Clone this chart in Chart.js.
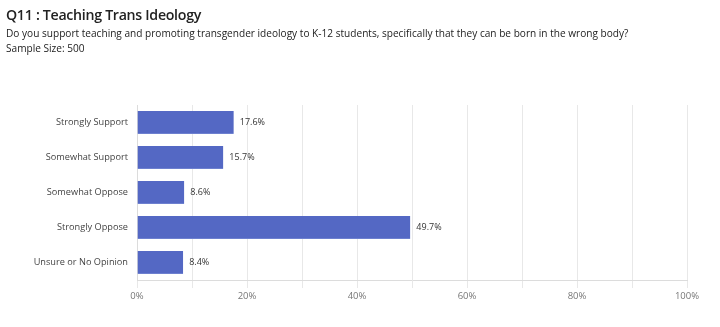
<!DOCTYPE html>
<html lang="en">
  <head>
    <meta charset="UTF-8" />
    <title>Q11 : Teaching Trans Ideology</title>
    <style>
      body {
        margin: 0;
        background: #fff;
        font-family: "Open Sans", sans-serif;
      }
      #wrap {
        position: relative;
        width: 720px;
        height: 327px;
      }
      #head {
        position: absolute;
        left: 6px;
        top: 5px;
        color: #222;
      }
      #head h1 {
        margin: 0 0 1px 0;
        font-size: 14.2px;
        font-weight: 600;
        letter-spacing: -0.3px;
        line-height: 20px;
      }
      #head p {
        margin: 0;
        font-size: 10.1px;
        line-height: 15px;
        color: #222;
      }
      canvas {
        position: absolute;
        left: 0;
        top: 0;
      }
    </style>
    <script src="https://cdn.jsdelivr.net/npm/chart.js"></script>
  </head>
  <body>
    <div id="wrap">
      <canvas id="chart" width="720" height="327"></canvas>
      <div id="head">
        <h1>Q11 : Teaching Trans Ideology</h1>
        <p>Do you support teaching and promoting transgender ideology to K-12 students, specifically that they can be born in the wrong body?</p>
        <p>Sample Size: 500</p>
      </div>
    </div>

    <script>
      const answers = [
        "Strongly Support",
        "Somewhat Support",
        "Somewhat Oppose",
        "Strongly Oppose",
        "Unsure or No Opinion"
      ];
      const percents = [17.6, 15.7, 8.6, 49.7, 8.4];
      const xTicks = [0, 20, 40, 60, 80, 100];

      // value labels at the end of each bar
      const barLabels = {
        id: "barLabels",
        afterDatasetsDraw(chart) {
          const ctx = chart.ctx;
          const meta = chart.getDatasetMeta(0);
          ctx.save();
          ctx.font = "9px 'Open Sans', sans-serif";
          ctx.fillStyle = "#333";
          ctx.textBaseline = "middle";
          meta.data.forEach((bar, i) => {
            ctx.fillText(percents[i].toFixed(1) + "%", bar.x + 6, bar.y);
          });
          ctx.restore();
        }
      };

      new Chart(document.getElementById("chart"), {
        type: "bar",
        data: {
          labels: answers,
          datasets: [
            {
              data: percents,
              backgroundColor: "#5468c4",
              borderColor: "#6d80cf",
              borderWidth: { bottom: 1 },
              barPercentage: 0.66,
              categoryPercentage: 1
            }
          ]
        },
        options: {
          indexAxis: "y",
          responsive: false,
          animation: false,
          layout: { padding: { top: 105, right: 33, left: 0, bottom: 0 } },
          plugins: {
            legend: { display: false },
            tooltip: { enabled: false }
          },
          scales: {
            x: {
              min: 0,
              max: 100,
              afterFit: (s) => { s.height = 47; },
              ticks: {
                stepSize: 10,
                autoSkip: false,
                maxRotation: 0,
                padding: 3,
                color: "#777",
                font: { size: 9.5, family: "'Open Sans', sans-serif" },
                callback: (v) => (xTicks.includes(v) ? v + "%" : "")
              },
              grid: { color: "#e8e8e8", tickLength: 8 },
              border: { color: "#dcdcdc" }
            },
            y: {
              afterFit: (s) => { s.width = 137; },
              ticks: {
                color: "#444",
                padding: 9,
                font: { size: 9.2, family: "'Open Sans', sans-serif" }
              },
              grid: { display: false, drawTicks: false },
              border: { color: "#dcdcdc" }
            }
          }
        },
        plugins: [barLabels]
      });
    </script>
  </body>
</html>
